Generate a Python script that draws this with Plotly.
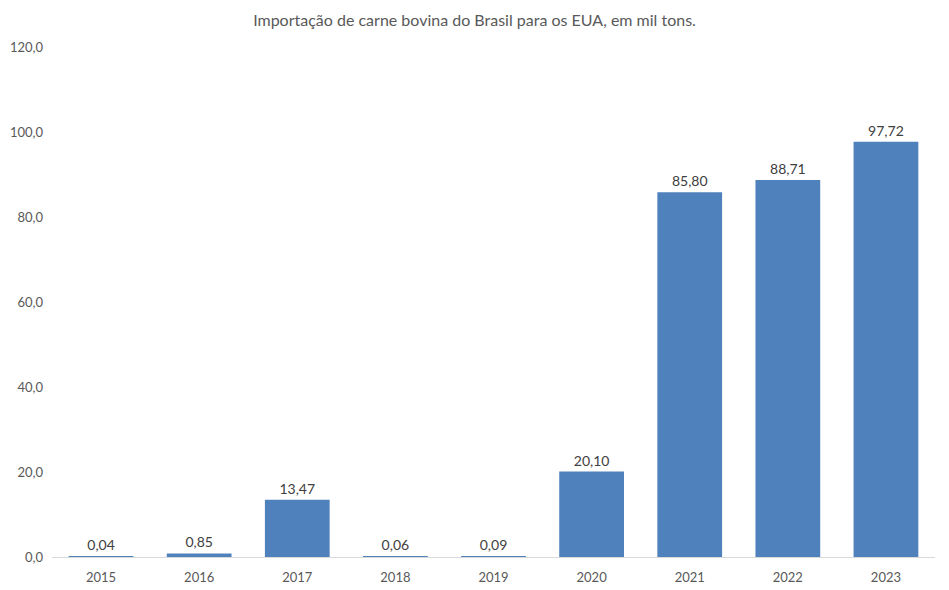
import plotly.graph_objects as go

years = ["2015", "2016", "2017", "2018", "2019", "2020", "2021", "2022", "2023"]
values = [0.04, 0.85, 13.47, 0.06, 0.09, 20.10, 85.80, 88.71, 97.72]
title_text = "Importação de carne bovina do Brasil para os EUA, em mil tons."

font_family = "Lato, 'Open Sans', sans-serif"
gray = "#595959"

fig = go.Figure(go.Bar(
    x=years, y=values,
    marker=dict(color="#4F81BD", line=dict(width=0)),
    texttemplate="%{y:.2f}", textposition="outside",
    textfont=dict(size=14, color="#404040", family=font_family),
    cliponaxis=False,
))

fig.update_layout(
    width=949, height=590,
    margin=dict(l=52, r=14, t=47, b=33, autoexpand=False),
    paper_bgcolor="white", plot_bgcolor="white",
    separators=",.",
    bargap=0.34,
    showlegend=False,
    title=dict(text=title_text, x=0.5, xanchor="center", y=0.965, yanchor="middle",
               font=dict(size=16, color=gray, family=font_family)),
    font=dict(family=font_family, color=gray),
    xaxis=dict(showgrid=False, showline=True, linecolor="#D9D9D9", linewidth=1,
               ticks="", tickfont=dict(size=13, color=gray), ticklabelstandoff=8,
               automargin=False),
    yaxis=dict(range=[0, 120], dtick=20, tickformat=".1f", showgrid=False,
               zeroline=False, showline=False, ticks="", automargin=False,
               tickfont=dict(size=13, color=gray), ticklabelstandoff=8),
)

fig.write_html("out.html")
